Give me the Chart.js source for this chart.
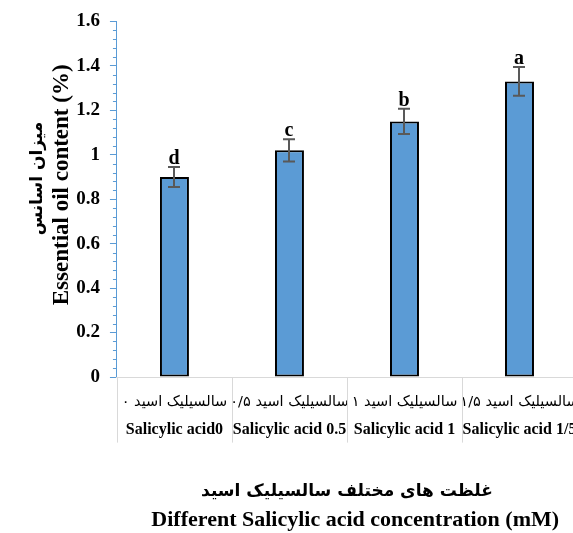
<!DOCTYPE html>
<html>
<head>
<meta charset="utf-8">
<script src="https://cdn.jsdelivr.net/npm/chart.js@4.4.1/dist/chart.umd.min.js"></script>
<style>
  html, body { margin: 0; padding: 0; background: #fff; overflow: hidden; }
  #wrap { position: relative; width: 600px; height: 533px; }
</style>
</head>
<body>
<div id="wrap"><canvas id="chart"></canvas></div>
<script>
// Treatments (Persian and English captions)
const categoriesFa = ['سالسیلیک اسید ۰', 'سالسیلیک اسید ۰/۵', 'سالسیلیک اسید ۱', 'سالسیلیک اسید ۱/۵'];
const categoriesEn = ['Salicylic acid0', 'Salicylic acid 0.5', 'Salicylic acid 1', 'Salicylic acid 1/5'];

// Essential oil content (%) with standard errors and mean-separation letters
const oilContent = [0.90, 1.02, 1.15, 1.33];
const oilError = [0.045, 0.05, 0.057, 0.065];
const groupLetters = ['d', 'c', 'b', 'a'];

// Value-axis labels
const yTickLabels = ['0', '0.2', '0.4', '0.6', '0.8', '1', '1.2', '1.4', '1.6'];

// Axis titles
const yTitleFa = 'میزان اسانس';
const yTitleEn = 'Essential oil content (%)';
const xTitleFa = 'غلظت های مختلف سالسیلیک اسید';
const xTitleEn = 'Different Salicylic acid concentration (mM)';

const SERIF = '"Liberation Serif", "Times New Roman", serif';
const FA = '"DejaVu Sans", sans-serif';
const AXIS_BLUE = '#5B9BD5';
const CELL_GRAY = '#d9d9d9';

// Whiskers and letters above each bar
const errorBarsPlugin = {
  id: 'errorBars',
  afterDatasetsDraw(chart) {
    const { ctx } = chart;
    const y = chart.scales.y;
    const meta = chart.getDatasetMeta(0);
    ctx.save();
    meta.data.forEach((bar, i) => {
      const v = oilContent[i], e = oilError[i];
      const yTop = y.getPixelForValue(v + e);
      const yBot = y.getPixelForValue(v - e);
      const x = Math.round(bar.x);
      ctx.strokeStyle = '#595959';
      ctx.lineWidth = 2;
      ctx.beginPath();
      ctx.moveTo(x, yTop); ctx.lineTo(x, yBot);
      ctx.moveTo(x - 6, yTop); ctx.lineTo(x + 6, yTop);
      ctx.moveTo(x - 6, yBot); ctx.lineTo(x + 6, yBot);
      ctx.stroke();
      ctx.fillStyle = '#000';
      ctx.font = 'bold 20px ' + SERIF;
      ctx.textAlign = 'center';
      ctx.textBaseline = 'alphabetic';
      ctx.fillText(groupLetters[i], x, yTop - 3);
    });
    ctx.restore();
  }
};

// Minor ticks on the value axis and the cell dividers under the category axis
const axisDecorPlugin = {
  id: 'axisDecor',
  afterDraw(chart) {
    const { ctx, chartArea } = chart;
    const y = chart.scales.y;
    const x = chart.scales.x;
    const x2 = chart.scales.x2;
    ctx.save();
    ctx.lineWidth = 1;

    ctx.strokeStyle = AXIS_BLUE;
    ctx.beginPath();
    const step = 0.2 / 5;
    const n = Math.round((y.max - y.min) / step);
    for (let k = 0; k <= n; k++) {
      if (k % 5 === 0) continue;
      const py = Math.round(y.getPixelForValue(y.min + k * step)) + 0.5;
      ctx.moveTo(chartArea.left - 4, py);
      ctx.lineTo(chartArea.left, py);
    }
    ctx.stroke();

    ctx.strokeStyle = CELL_GRAY;
    ctx.beginPath();
    const count = x.ticks.length;
    const half = (x.getPixelForValue(1) - x.getPixelForValue(0)) / 2;
    for (let i = 0; i <= count; i++) {
      const px = Math.round(x.getPixelForValue(Math.min(i, count - 1)) + (i < count ? -half : half)) + 0.5;
      ctx.moveTo(px, x.top);
      ctx.lineTo(px, x2.bottom + 3);
    }
    ctx.stroke();
    ctx.restore();
  }
};

new Chart(document.getElementById('chart'), {
  type: 'bar',
  data: {
    labels: categoriesFa,
    datasets: [{
      data: oilContent,
      backgroundColor: '#5B9BD5',
      borderColor: '#000000',
      borderWidth: 2,
      borderSkipped: false,
      barPercentage: 0.252,
      categoryPercentage: 1
    }]
  },
  options: {
    responsive: true,
    maintainAspectRatio: false,
    animation: false,
    layout: { padding: { top: 18.6, left: 0, right: 23, bottom: 1 } },
    plugins: {
      legend: { display: false },
      tooltip: { enabled: false },
      subtitle: {
        display: true,
        position: 'bottom',
        fullSize: false,
        text: xTitleFa,
        color: '#000',
        font: { family: FA, size: 17, weight: 'bold', lineHeight: '20px' },
        padding: { top: 42.4, bottom: 0 }
      },
      title: {
        display: true,
        position: 'bottom',
        fullSize: false,
        text: '   ' + xTitleEn,
        color: '#000',
        font: { family: SERIF, size: 22, weight: 'bold', lineHeight: '24px' },
        padding: { top: 6, bottom: 0 }
      }
    },
    scales: {
      y: {
        weight: 0,
        min: 0,
        max: 1.6,
        ticks: {
          stepSize: 0.2,
          padding: 10,
          color: '#000',
          font: { family: SERIF, size: 19, weight: 'bold' },
          callback: (v, i) => yTickLabels[i]
        },
        grid: { drawOnChartArea: false, tickLength: 7, color: AXIS_BLUE, lineWidth: 1 },
        border: { color: AXIS_BLUE, width: 1 },
        title: {
          display: true,
          text: '     ' + yTitleEn,
          color: '#000',
          font: { family: SERIF, size: 23, weight: 'bold', lineHeight: '24px' },
          padding: { top: 2, bottom: -7.8 }
        }
      },
      y2: {
        type: 'linear',
        position: 'left',
        weight: 1,
        min: 0,
        max: 1.6,
        grid: { display: false, drawTicks: false },
        border: { display: false },
        ticks: { display: false },
        title: {
          display: true,
          text: '       ' + yTitleFa,
          color: '#000',
          font: { family: FA, size: 17, weight: 'bold', lineHeight: '20px' },
          padding: { top: 28, bottom: 0 }
        }
      },
      x: {
        weight: 0,
        offset: true,
        grid: { display: false, drawTicks: true, tickLength: 16.3, offset: true },
        border: { color: CELL_GRAY, width: 1 },
        ticks: {
          padding: 0,
          color: '#000',
          autoSkip: false,
          maxRotation: 0,
          font: { family: FA, size: 14.5 }
        }
      },
      x2: {
        type: 'category',
        position: 'bottom',
        labels: categoriesEn,
        weight: 1,
        offset: true,
        grid: { display: false, drawTicks: true, tickLength: 9.7, offset: true },
        border: { display: false },
        ticks: {
          padding: 0,
          color: '#000',
          autoSkip: false,
          maxRotation: 0,
          font: { family: SERIF, size: 16, weight: 'bold' }
        }
      }
    }
  },
  plugins: [errorBarsPlugin, axisDecorPlugin]
});
</script>
</body>
</html>
